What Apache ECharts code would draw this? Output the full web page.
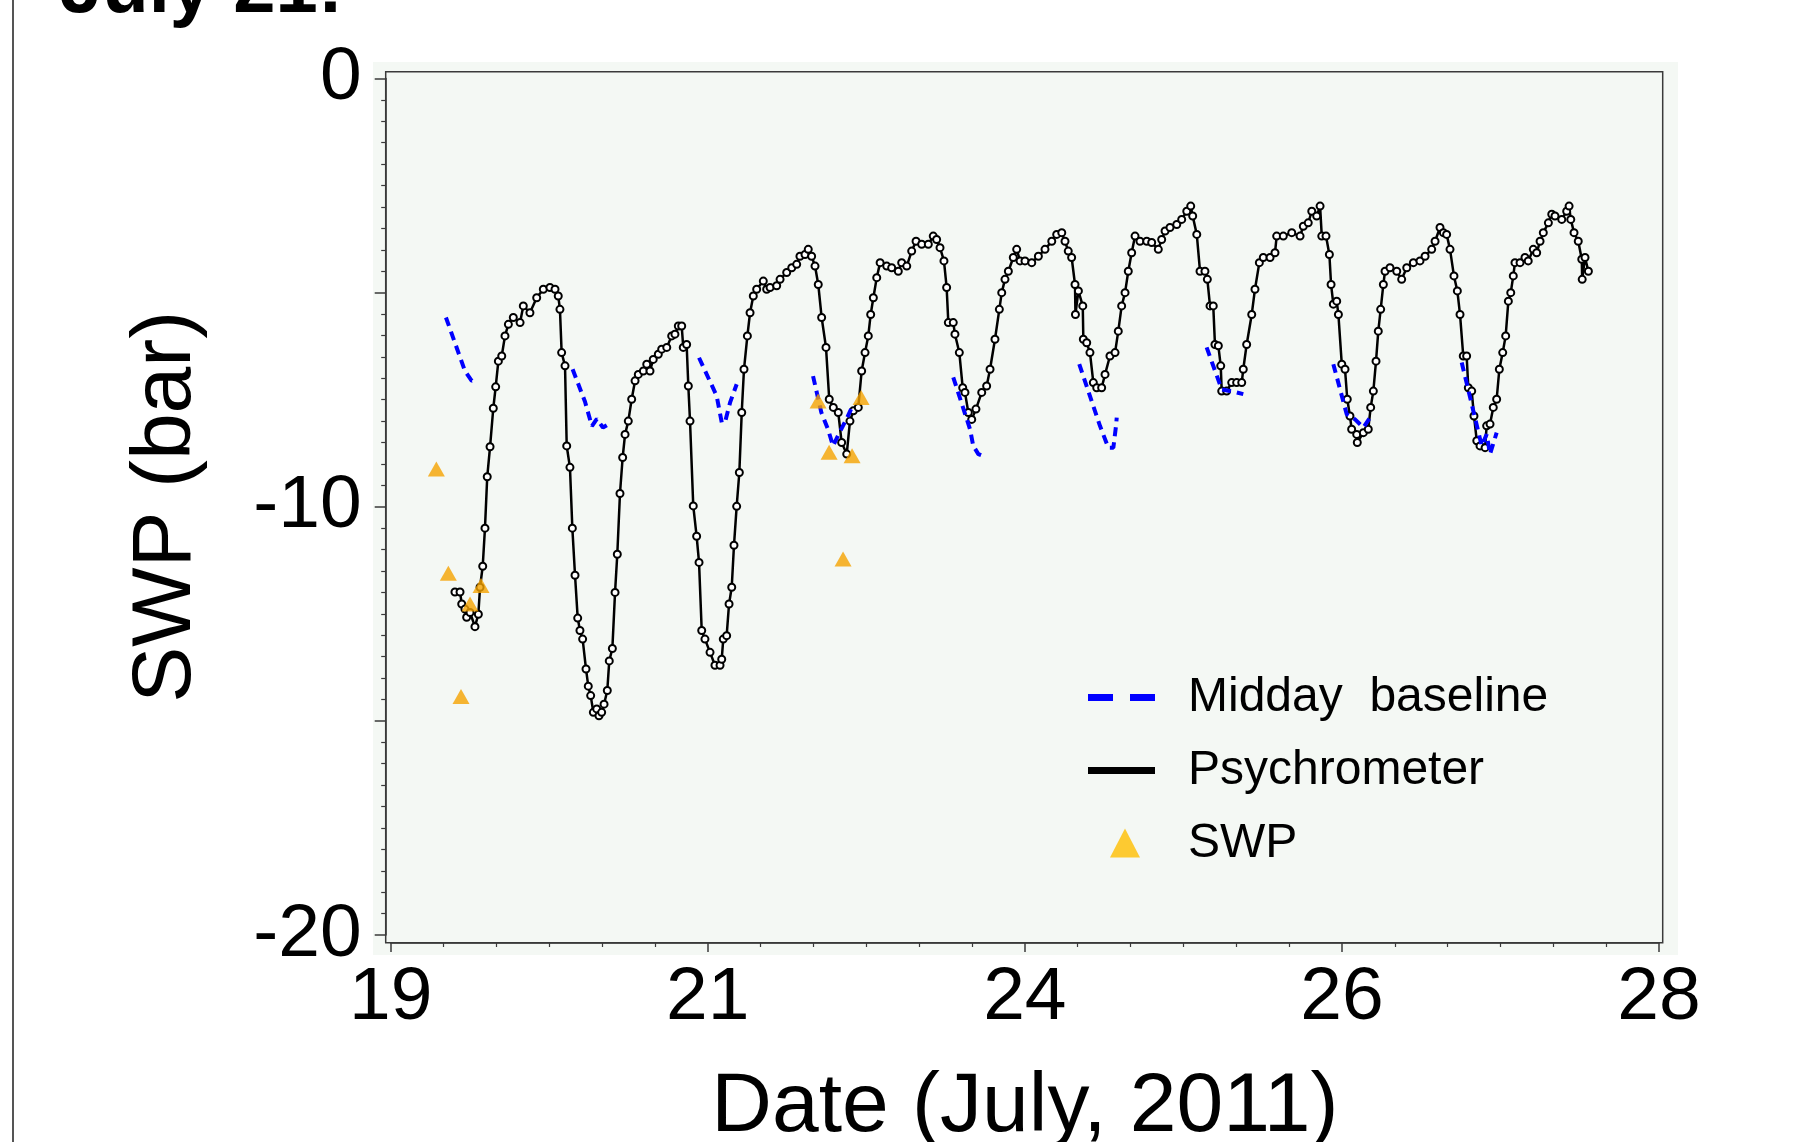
<!DOCTYPE html>
<html><head><meta charset="utf-8">
<script src="https://cdn.jsdelivr.net/npm/echarts@6/dist/echarts.min.js"></script>
<style>html,body{margin:0;padding:0;background:#fff}#c{width:1815px;height:1142px}</style>
</head><body><div id="c"></div>
<script>
// ---------- data (x = day of July 2011, y = SWP in bar) ----------
const DAY0 = 19;
const xTickLabels = ['19', '21', '24', '26', '28'];      // at 19, 21.25, 23.5, 25.75, 28
const yTickLabels = ['-20', '', '-10', '', '0'];          // at -20, -15, -10, -5, 0

const psyDay = [19.456,19.492,19.504,19.527,19.539,19.563,19.598,19.622,19.634,19.653,19.669,19.685,
19.705,19.728,19.745,19.764,19.788,19.811,19.835,19.870,19.918,19.941,19.988,20.036,20.083,20.130,20.166,20.189,20.201,20.213,20.237,20.249,20.272,
20.289,20.308,20.327,20.343,20.362,20.386,20.402,20.419,20.438,20.462,20.478,20.497,20.514,20.537,20.551,20.573,20.592,20.608,20.627,
20.646,20.663,20.686,20.710,20.734,20.757,20.793,20.817,20.840,20.863,20.899,20.923,20.959,20.994,21.017,21.041,21.065,21.076,21.100,21.112,21.124,
21.147,21.171,21.188,21.207,21.230,21.266,21.301,21.337,21.349,21.360,21.384,21.401,21.420,21.436,21.455,21.474,
21.491,21.507,21.531,21.550,21.573,21.597,21.644,21.668,21.692,21.739,21.763,21.810,21.846,21.881,21.904,21.940,21.963,21.987,22.011,22.034,22.058,
22.089,22.112,22.141,22.176,22.200,22.236,
22.259,22.283,22.318,22.342,22.366,22.389,22.406,22.425,22.449,22.473,22.520,22.555,22.602,22.626,22.662,22.697,22.728,22.768,22.815,22.850,22.874,22.898,22.926,22.945,22.957,
22.992,23.004,23.035,23.059,23.075,23.099,23.123,23.153,23.194,23.229,23.253,23.288,23.319,23.336,23.359,23.383,23.418,23.442,23.466,23.501,23.549,23.596,23.643,23.691,23.726,23.762,23.785,23.808,23.832,23.856,
23.859,23.880,23.911,23.915,
23.939,23.962,23.986,24.010,24.045,24.069,24.104,24.140,24.163,24.187,24.211,24.234,24.258,24.282,
24.317,24.365,24.400,24.447,24.471,24.495,24.530,24.578,24.613,24.649,24.677,24.691,24.720,24.743,24.778,24.795,24.814,24.837,24.849,24.873,24.890,24.897,24.932,24.968,25.003,25.039,25.050,25.074,25.110,25.133,25.164,25.192,25.240,25.275,25.287,
25.334,25.394,25.453,25.476,25.511,25.536,25.571,25.595,25.607,25.637,25.661,25.673,25.689,25.713,25.725,25.749,25.772,25.788,25.807,25.819,25.855,25.859,25.902,25.937,25.954,25.973,25.992,26.008,26.025,26.044,
26.056,26.091,26.139,26.174,26.210,26.257,26.304,26.340,26.387,26.411,26.446,26.470,26.493,26.517,26.545,26.569,26.588,26.611,26.635,26.647,26.671,26.687,26.707,26.730,26.766,26.777,26.801,26.824,26.848,26.867,26.891,26.912,26.931,26.948,26.966,26.978,
27.014,27.049,27.072,27.108,27.132,27.156,27.179,27.215,27.239,27.262,27.310,27.345,27.362,27.374,27.397,27.427,27.452,27.455,27.475,27.499];

const psyVal = [-11.99,-11.99,-12.27,-12.39,-12.58,-12.47,-12.80,-12.51,-11.88,-11.39,-10.50,-9.30,
-8.60,-7.70,-7.20,-6.60,-6.48,-6.01,-5.74,-5.58,-5.70,-5.31,-5.47,-5.12,-4.92,-4.88,-4.92,-5.08,-5.39,-6.40,-6.71,-8.58,-9.08,
-10.50,-11.60,-12.60,-12.89,-13.09,-13.79,-14.19,-14.41,-14.80,-14.72,-14.88,-14.80,-14.61,-14.29,-13.60,-13.31,-12.00,-11.11,-9.69,
-8.85,-8.31,-8.00,-7.49,-7.06,-6.91,-6.83,-6.67,-6.83,-6.56,-6.44,-6.32,-6.28,-6.01,-5.97,-5.78,-5.78,-6.28,-6.21,-7.18,-8.00,
-9.98,-10.69,-11.30,-12.89,-13.09,-13.40,-13.70,-13.70,-13.56,-13.09,-13.01,-12.27,-11.88,-10.90,-9.99,-9.20,
-7.80,-6.79,-6.01,-5.47,-5.08,-4.92,-4.73,-4.92,-4.88,-4.84,-4.69,-4.53,-4.42,-4.34,-4.15,-4.11,-3.99,-4.15,-4.38,-4.81,-5.58,
-6.28,-7.49,-7.68,-7.80,-8.50,-8.77,
-8.00,-7.76,-7.68,-6.83,-6.40,-6.01,-5.51,-5.12,-4.65,-4.30,-4.38,-4.42,-4.50,-4.30,-4.38,-4.03,-3.80,-3.87,-3.87,-3.68,-3.76,-3.95,-4.26,-4.88,-5.70,
-5.70,-5.97,-6.40,-7.22,-7.33,-7.80,-7.96,-7.72,-7.33,-7.18,-6.79,-6.09,-5.39,-5.00,-4.69,-4.50,-4.18,-3.99,-4.26,-4.26,-4.30,-4.15,-3.99,-3.80,-3.64,-3.60,-3.80,-4.03,-4.18,-4.81,
-5.51,-4.96,-5.31,-6.09,
-6.17,-6.40,-7.10,-7.22,-7.22,-6.91,-6.48,-6.40,-5.90,-5.31,-5.00,-4.50,-4.07,-3.68,
-3.80,-3.80,-3.83,-3.99,-3.76,-3.56,-3.48,-3.41,-3.29,-3.10,-2.98,-3.21,-3.64,-4.50,-4.50,-4.69,-5.31,-5.31,-6.21,-6.24,-6.71,-7.30,-7.30,-7.10,-7.10,-7.10,-6.79,-6.21,-5.51,-4.92,-4.30,-4.18,-4.18,-4.07,-3.68,
-3.68,-3.60,-3.68,-3.45,-3.37,-3.10,-3.21,-2.98,-3.68,-3.68,-4.11,-4.81,-5.27,-5.20,-5.51,-6.67,-6.79,-7.49,-7.88,-8.19,-8.31,-8.50,-8.27,-8.19,-7.68,-7.30,-6.60,-5.90,-5.39,-4.81,
-4.50,-4.42,-4.50,-4.69,-4.42,-4.30,-4.26,-4.15,-3.99,-3.80,-3.48,-3.60,-3.64,-3.99,-4.61,-4.96,-5.51,-6.48,-6.48,-7.22,-7.30,-7.88,-8.46,-8.58,-8.62,-8.11,-8.07,-7.68,-7.49,-6.79,-6.40,-6.01,-5.20,-5.00,-4.61,-4.30,
-4.30,-4.18,-4.26,-3.99,-4.07,-3.80,-3.60,-3.37,-3.17,-3.21,-3.29,-3.10,-2.98,-3.29,-3.60,-3.80,-4.22,-4.69,-4.18,-4.50];

// midday baseline: short segments, null = gap
const midDay = [19.392,19.527,19.575,19.598, 19.95,
20.291,20.379,20.428,20.463,20.506,20.556, 20.9,
21.188,21.313,21.349,21.372,21.408,21.455, 21.7,
21.997,22.056,22.103,22.139,22.174,22.233,22.267, 22.6,
22.992,23.111,23.134,23.170,23.217, 23.5,
23.886,24.033,24.092,24.128,24.147,24.152, 24.5,
24.790,24.897,25.003,25.050, 25.4,
25.689,25.784,25.843,25.902,25.949, 26.3,
26.600,26.742,26.777,26.801,26.848];
const midVal = [-5.58,-6.83,-7.06,-7.04, null,
-6.79,-7.55,-8.12,-7.95,-8.15,-8.05, null,
-6.52,-7.41,-8.03,-8.03,-7.57,-7.14, null,
-6.95,-7.80,-8.19,-8.58,-8.34,-7.96,-7.72, null,
-6.98,-8.19,-8.58,-8.77,-8.83, null,
-6.67,-8.11,-8.62,-8.62,-8.11,-7.92, null,
-6.28,-7.26,-7.33,-7.37, null,
-6.67,-7.84,-7.96,-8.15,-7.92, null,
-6.63,-8.58,-8.31,-8.77,-8.27];

const swpDay = [19.324,19.409,19.499,19.563,19.641,22.033,22.111,22.210,22.274,22.338];
const swpVal = [-9.12,-11.55,-14.43,-12.27,-11.84,-7.53,-8.73,-11.22,-8.81,-7.45];

// ---------- build ----------
const pairs = (xs, ys) => xs.slice(0, Math.min(xs.length, ys.length)).map((d, i) => [d - DAY0, ys[i]]);
const psyData = pairs(psyDay, psyVal);
const midData = pairs(midDay, midVal);
const swpData = pairs(swpDay, swpVal);

const FONT = "'Liberation Sans', Arial, sans-serif";
const AX = '#3a3a3a';

const chart = echarts.init(document.getElementById('c'), null, {renderer: 'canvas'});
chart.setOption({
  animation: false,
  backgroundColor: '#ffffff',
  tooltip: {show: false},
  grid: [
    {left: 373, top: 62, width: 1305, height: 893, show: true, backgroundColor: '#f4f8f4', borderWidth: 0, outerBoundsMode: 'none', containLabel: false},
    {left: 385.7, top: 71.7, width: 1277, height: 871, show: true, backgroundColor: 'transparent', borderColor: AX, borderWidth: 1.5, outerBoundsMode: 'none', containLabel: false},
    {left: 390.7, top: 78.5, width: 1268.3, height: 856.5, show: false, outerBoundsMode: 'none', containLabel: false}
  ],
  xAxis: [
    {gridIndex: 0, type: 'value', show: false},
    {gridIndex: 1, type: 'value', show: false},
    {
      gridIndex: 2, type: 'value', min: 0, max: 9, interval: 2.25, offset: 8, position: 'bottom',
      axisLine: {show: true, onZero: false, lineStyle: {color: AX, width: 1.5}},
      axisTick: {show: true, inside: false, length: 9, lineStyle: {color: AX, width: 1.5}},
      minorTick: {show: true, splitNumber: 6, length: 4, lineStyle: {color: AX, width: 1.2}},
      splitLine: {show: false}, minorSplitLine: {show: false},
      axisLabel: {
        show: true, margin: 18, fontSize: 75, color: '#000', fontFamily: FONT,
        showMinLabel: true, showMaxLabel: true, hideOverlap: false,
        formatter: v => xTickLabels[Math.round(v / 2.25)] || ''
      },
      name: 'Date (July, 2011)', nameLocation: 'middle', nameGap: 123, nameMoveOverlap: false,
      nameTextStyle: {fontSize: 84, color: '#000', fontFamily: FONT}
    }
  ],
  yAxis: [
    {gridIndex: 0, type: 'value', show: false},
    {gridIndex: 1, type: 'value', show: false},
    {
      gridIndex: 2, type: 'value', min: -20, max: 0, interval: 5, offset: 5, position: 'left',
      axisLine: {show: true, onZero: false, lineStyle: {color: AX, width: 1.5}},
      axisTick: {show: true, inside: false, length: 11, lineStyle: {color: AX, width: 1.5}},
      minorTick: {show: true, splitNumber: 10, length: 4.5, lineStyle: {color: AX, width: 1.2}},
      splitLine: {show: false}, minorSplitLine: {show: false},
      axisLabel: {
        show: true, margin: 24, fontSize: 75, color: '#000', fontFamily: FONT,
        showMinLabel: true, showMaxLabel: true, hideOverlap: false,
        formatter: v => yTickLabels[Math.round((v + 20) / 5)] || ''
      },
      name: 'SWP (bar)', nameLocation: 'middle', nameGap: 177, nameRotate: 90, nameMoveOverlap: false,
      nameTextStyle: {fontSize: 84, color: '#000', fontFamily: FONT}
    }
  ],
  legend: {
    show: true, orient: 'vertical', left: 1088, top: 673.5, padding: 0,
    itemWidth: 95, itemHeight: 30, itemGap: 25, selectedMode: false,
    textStyle: {fontSize: 48, color: '#000', fontFamily: FONT, lineHeight: 48},
    data: [
      {name: 'Midday  baseline', icon: 'path://M0,0M95,30M0,11.5L25,11.5L25,18.5L0,18.5ZM42,11.5L67,11.5L67,18.5L42,18.5Z',
        itemStyle: {color: '#0000ff', borderWidth: 0}},
      {name: 'Psychrometer', icon: 'path://M0,0M95,30M0,11.5L67,11.5L67,18.5L0,18.5Z',
        itemStyle: {color: '#000000', borderWidth: 0}},
      {name: 'SWP', icon: 'path://M0,0M95,30M22,29L37,0L52,29Z',
        itemStyle: {color: '#ffbe00', borderWidth: 0}}
    ]
  },
  graphic: [
    {type: 'line', shape: {x1: 13, y1: 0, x2: 13, y2: 1142}, style: {stroke: '#555', lineWidth: 2}, silent: true},
    {type: 'text', x: 60, y: -9, style: {text: 'July 21:', font: 'bold 76px ' + FONT, fill: '#000', align: 'left', verticalAlign: 'middle', textAlign: 'left', textVerticalAlign: 'middle'}, silent: true}
  ],
  series: [
    {
      name: 'Psychrometer', type: 'line', xAxisIndex: 2, yAxisIndex: 2, data: psyData,
      symbol: 'emptyCircle', symbolSize: 7, showAllSymbol: true, color: '#000',
      lineStyle: {color: '#000', width: 2.5},
      itemStyle: {color: '#000', borderColor: '#000', borderWidth: 1.3},
      z: 3
    },
    {
      name: 'Midday  baseline', type: 'line', xAxisIndex: 2, yAxisIndex: 2, data: midData,
      connectNulls: false, symbol: 'none', color: '#0000ff',
      lineStyle: {color: '#0000ff', width: 4, type: [9, 6]},
      z: 4
    },
    {
      name: 'SWP', type: 'scatter', xAxisIndex: 2, yAxisIndex: 2, data: swpData,
      symbol: 'triangle', symbolSize: [17, 15], color: '#f5a300',
      itemStyle: {color: '#f5a300'}, z: 5
    }
  ]
});
</script>
</body></html>
